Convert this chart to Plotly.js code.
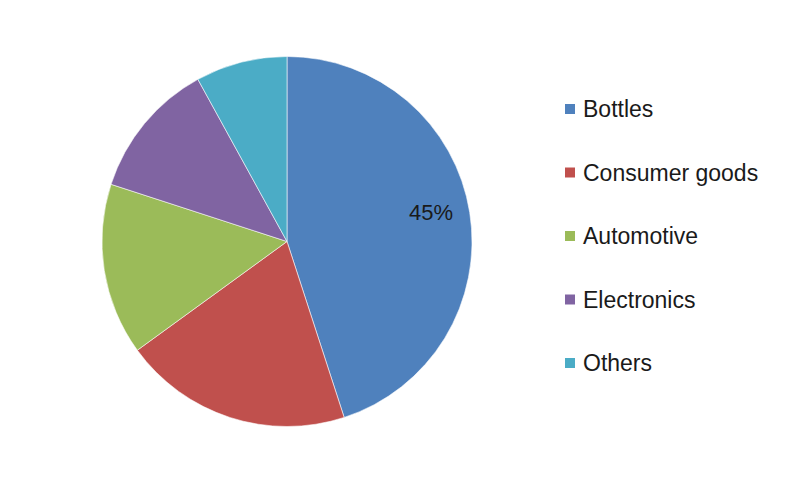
<!DOCTYPE html>
<html>
<head>
<meta charset="utf-8">
<script src="https://cdn.plot.ly/plotly-3.0.1.min.js"></script>
<style>html,body{margin:0;padding:0;background:#fff;}#chart{width:800px;height:481px;}</style>
</head>
<body>
<div id="chart"></div>
<script>
const categories = ["Bottles", "Consumer goods", "Automotive", "Electronics", "Others"];
const shares = [45, 20, 15, 12, 8];
const sliceColors = ["#4F81BD", "#C0504D", "#9BBB59", "#8064A2", "#4BACC6"];
const shownLabels = [true, false, false, false, false];

const fontFamily = 'Arial, "Liberation Sans", sans-serif';
const textColor = "#1a1a1a";
const W = 800, H = 481;
const dom = { x: [0.1275, 0.59], y: [0.1123, 0.8836] };

const trace = {
  type: "pie",
  labels: categories,
  values: shares,
  sort: false,
  direction: "clockwise",
  rotation: 0,
  marker: { colors: sliceColors, line: { color: "rgba(255,255,255,0.7)", width: 0.8 } },
  textinfo: "none",
  hoverinfo: "label+percent",
  showlegend: false,
  domain: dom
};

const annotations = [];
const shapes = [];

// Percentage labels placed along each slice's mid-angle (derived from the data)
const total = shares.reduce((a, b) => a + b, 0);
const cxPx = (dom.x[0] + dom.x[1]) / 2 * W;
const cyPx = (1 - (dom.y[0] + dom.y[1]) / 2) * H;
const Rpx = Math.min((dom.x[1] - dom.x[0]) * W, (dom.y[1] - dom.y[0]) * H) / 2;
let cum = 0;
shares.forEach((v, i) => {
  const mid = (cum + v / 2) / total * 2 * Math.PI;
  cum += v;
  if (!shownLabels[i]) return;
  const r = 0.79 * Rpx;
  const px = cxPx + r * Math.sin(mid);
  const py = cyPx - r * Math.cos(mid) - 6;
  annotations.push({
    xref: "paper", yref: "paper", x: px / W, y: 1 - py / H,
    xanchor: "center", yanchor: "middle", showarrow: false,
    text: Math.round(v / total * 100) + "%",
    font: { family: fontFamily, size: 22, color: textColor }
  });
});

// Custom legend (larger row spacing than Plotly's built-in legend allows)
const legTop = 109, legStep = 63.5;
categories.forEach((c, i) => {
  const yc = legTop + i * legStep;
  shapes.push({
    type: "rect", xref: "paper", yref: "paper",
    x0: 565 / W, x1: 575 / W, y0: 1 - (yc + 5) / H, y1: 1 - (yc - 5) / H,
    fillcolor: sliceColors[i], line: { width: 0 }
  });
  annotations.push({
    xref: "paper", yref: "paper", x: 581 / W, y: 1 - yc / H,
    xanchor: "left", yanchor: "middle", showarrow: false,
    text: c, font: { family: fontFamily, size: 23, color: textColor }
  });
});

const layout = {
  width: W, height: H,
  margin: { l: 0, r: 0, t: 0, b: 0 },
  paper_bgcolor: "#ffffff",
  plot_bgcolor: "#ffffff",
  showlegend: false,
  shapes: shapes,
  annotations: annotations
};

Plotly.newPlot("chart", [trace], layout, { displayModeBar: false, staticPlot: true });
</script>
</body>
</html>
